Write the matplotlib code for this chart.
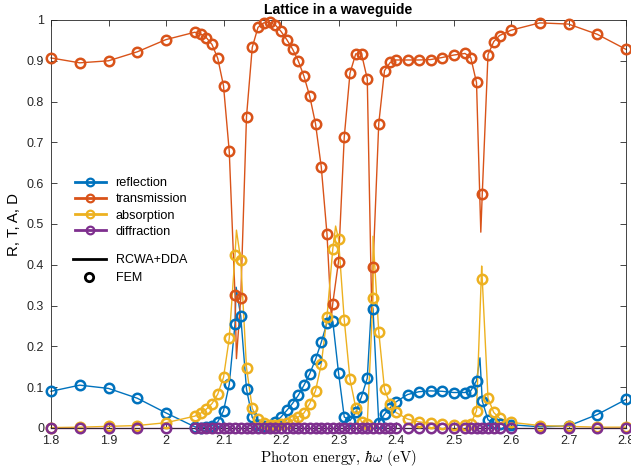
import numpy as np
import matplotlib
matplotlib.use("Agg")
import matplotlib.pyplot as plt
from matplotlib.lines import Line2D

plt.rcParams['font.family'] = ['Liberation Sans', 'DejaVu Sans']
plt.rcParams['mathtext.fontset'] = 'cm'

# ---------------- FEM data (markers) ----------------
fem_x = [1.80, 1.85, 1.90, 1.95, 2.00,
         2.05, 2.06, 2.07, 2.08, 2.09, 2.10, 2.11, 2.12, 2.13, 2.14,
         2.15, 2.16, 2.17, 2.18, 2.19, 2.20, 2.21, 2.22, 2.23, 2.24,
         2.25, 2.26, 2.27, 2.28, 2.29, 2.30, 2.31, 2.32, 2.33, 2.34,
         2.35, 2.36, 2.37, 2.38, 2.39, 2.40,
         2.42, 2.44, 2.46, 2.48, 2.50,
         2.52, 2.53, 2.54, 2.55, 2.56, 2.57, 2.58,
         2.60, 2.65, 2.70, 2.75, 2.80]

fem_T = [0.907, 0.895, 0.900, 0.922, 0.952,
         0.970, 0.966, 0.957, 0.940, 0.906, 0.839, 0.678, 0.327, 0.319, 0.763,
         0.933, 0.982, 0.993, 0.994, 0.988, 0.972, 0.952, 0.929, 0.900, 0.862,
         0.813, 0.746, 0.640, 0.475, 0.305, 0.408, 0.713, 0.870, 0.917, 0.917,
         0.856, 0.394, 0.746, 0.876, 0.896, 0.902,
         0.902, 0.902, 0.903, 0.908, 0.914,
         0.918, 0.908, 0.847, 0.573, 0.915, 0.947, 0.962,
         0.975, 0.993, 0.990, 0.965, 0.928]

fem_R = [0.090, 0.105, 0.097, 0.073, 0.037,
         0.003, 0.001, 0.002, 0.006, 0.015, 0.042, 0.107, 0.255, 0.274, 0.095,
         0.026, 0.008, 0.004, 0.006, 0.014, 0.027, 0.043, 0.060, 0.080, 0.105,
         0.133, 0.168, 0.210, 0.258, 0.262, 0.136, 0.027, 0.018, 0.038, 0.077,
         0.122, 0.292, 0.013, 0.034, 0.050, 0.064,
         0.082, 0.089, 0.091, 0.090, 0.087,
         0.087, 0.091, 0.116, 0.066, 0.020, 0.012, 0.010,
         0.008, 0.003, 0.005, 0.033, 0.070]

fem_A = [0.001, 0.002, 0.004, 0.006, 0.013,
         0.029, 0.036, 0.046, 0.060, 0.083, 0.124, 0.220, 0.424, 0.411, 0.148,
         0.048, 0.021, 0.012, 0.008, 0.008, 0.010, 0.013, 0.019, 0.027, 0.037,
         0.060, 0.091, 0.156, 0.273, 0.438, 0.463, 0.265, 0.119, 0.050, 0.015,
         0.010, 0.319, 0.236, 0.095, 0.058, 0.038,
         0.022, 0.015, 0.012, 0.010, 0.008,
         0.007, 0.010, 0.042, 0.365, 0.073, 0.038, 0.024,
         0.014, 0.006, 0.004, 0.002, 0.002]

fem_D = [0.0] * len(fem_x)

# ---------------- RCWA+DDA extra resonance samples (lines) ----------------
rcwa_T_extra_x = [2.1225, 2.2875, 2.358, 2.5475]
rcwa_T_extra = [0.170, 0.270, 0.270, 0.480]
rcwa_R_extra_x = [2.1220, 2.2850, 2.3575, 2.5460]
rcwa_R_extra = [0.345, 0.275, 0.305, 0.172]
rcwa_A_extra_x = [2.1225, 2.2950, 2.3600, 2.5490]
rcwa_A_extra = [0.485, 0.495, 0.470, 0.397]

labels = ['reflection', 'transmission', 'absorption', 'diffraction']
colors = ['#0072BD', '#D95319', '#EDB120', '#7E2F8E']


def merged(xs, ys, ex, ey):
    x = np.array(list(xs) + list(ex))
    y = np.array(list(ys) + list(ey))
    o = np.argsort(x)
    return x[o], y[o]


fig = plt.figure(figsize=(6.31, 4.71), dpi=100)
ax = fig.add_axes([51 / 631, 43 / 471, 575 / 631, 408 / 471])

series = [
    (fem_R, rcwa_R_extra_x, rcwa_R_extra),
    (fem_T, rcwa_T_extra_x, rcwa_T_extra),
    (fem_A, rcwa_A_extra_x, rcwa_A_extra),
    (fem_D, [], []),
]

for (fy, ex, ey), c in zip(series, colors):
    lx, ly = merged(fem_x, fy, ex, ey)
    ax.plot(lx, ly, '-', color=c, lw=1.0, zorder=2, clip_on=False)
for (fy, ex, ey), c in zip(series, colors):
    ax.plot(fem_x, fy, 'o', color=c, mfc='none', mew=1.8, ms=6.8,
            zorder=3, clip_on=False)

ax.set_xlim(1.8, 2.8)
ax.set_ylim(0, 1)
ax.set_xticks([1.8, 1.9, 2.0, 2.1, 2.2, 2.3, 2.4, 2.5, 2.6, 2.7, 2.8])
ax.set_xticklabels(['1.8', '1.9', '2', '2.1', '2.2', '2.3', '2.4', '2.5', '2.6', '2.7', '2.8'])
ax.set_yticks([0, 0.1, 0.2, 0.3, 0.4, 0.5, 0.6, 0.7, 0.8, 0.9, 1.0])
ax.set_yticklabels(['0', '0.1', '0.2', '0.3', '0.4', '0.5', '0.6', '0.7', '0.8', '0.9', '1'])
ax.tick_params(direction='in', top=True, right=True, labelsize=9,
               length=4, width=0.6, colors='#262626')
ax.tick_params(axis='x', pad=5)
ax.tick_params(axis='y', pad=5)
for s in ax.spines.values():
    s.set_linewidth(0.6)
    s.set_color('#262626')

ax.set_title('Lattice in a waveguide', fontsize=10.1, fontweight='bold', pad=4)
ax.set_xlabel(r'Photon energy, $\hbar\omega$ (eV)', fontsize=10.8, family='cmr10', labelpad=1)
ax.set_ylabel('R, T, A, D', fontsize=10.8, labelpad=4)

handles = [Line2D([], [], color=c, lw=2, marker='o', mfc='none', mew=1.6, ms=5.5)
           for c in colors]
leg1 = ax.legend(handles, labels, loc='upper left', bbox_to_anchor=(0.0417, 0.615),
                 frameon=False, fontsize=9.2, handlelength=2.4, handletextpad=0.78,
                 labelspacing=0.33, borderaxespad=0, borderpad=0)
ax.add_artist(leg1)
h2 = [Line2D([], [], color='k', lw=2),
      Line2D([], [], color='k', lw=0, marker='o', mfc='none', mew=2, ms=6)]
ax.legend(h2, ['RCWA+DDA', 'FEM'], loc='upper left', bbox_to_anchor=(0.038, 0.426),
          frameon=False, fontsize=9.0, handlelength=2.65, handletextpad=0.8,
          labelspacing=0.5, borderaxespad=0, borderpad=0)

fig.savefig('out.png', dpi=100)
